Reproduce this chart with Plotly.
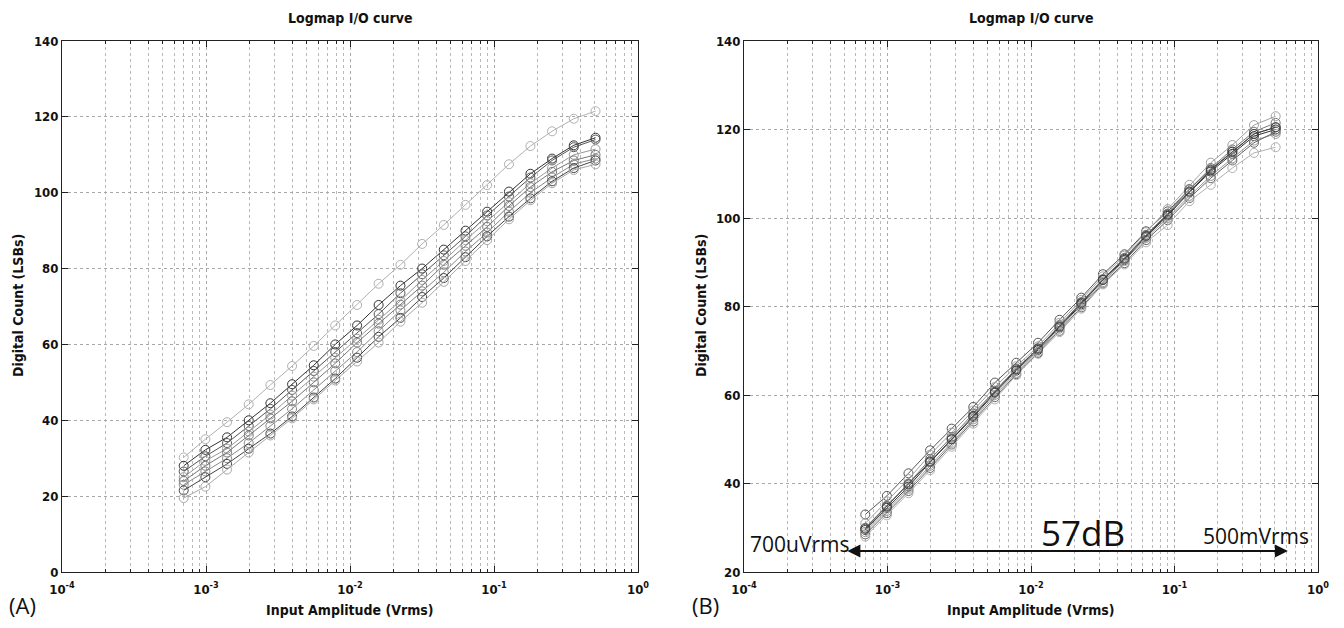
import plotly.graph_objects as go

# Input amplitudes (Vrms), 3 dB steps from 700 uVrms to 500 mVrms
x_vrms = [0.0007, 0.00099, 0.0014, 0.00198, 0.0028, 0.00396, 0.0056, 0.0079,
          0.0112, 0.0158, 0.0224, 0.0317, 0.0448, 0.0634, 0.0896, 0.127,
          0.179, 0.253, 0.358, 0.507]

# Panel (A) digital counts
a1 = [30.2, 35, 39.5, 44.2, 49.3, 54.3, 59.6, 65, 70.4, 76, 81, 86.5, 91.5, 96.8, 102, 107.5, 112.3, 116.2, 119.5, 121.5]
a2 = [28, 32.2, 35.5, 40, 44.5, 49.5, 54.5, 60, 65, 70.4, 75.5, 80, 85, 90, 95, 100.3, 105, 109, 112.5, 114.5]
a3 = [26.5, 30.5, 34, 38.5, 43, 48, 53, 58, 63, 68, 73.5, 78.5, 83.5, 88.5, 94, 99, 104, 108.5, 112, 114]
a4 = [25, 29.3, 32.5, 37, 41.5, 46.5, 51.5, 56.5, 61.5, 66.5, 71.5, 77, 82, 87.5, 92.5, 97.5, 102.5, 106.5, 110, 111.5]
a5 = [24, 28, 31.5, 36, 40.5, 45, 50, 55, 60.5, 65.5, 70.5, 75.5, 81, 86, 91, 96.5, 101.5, 105.5, 108.5, 110]
a6 = [23, 26.5, 30, 34, 38.5, 43, 48, 53, 58, 63.5, 69, 74, 79, 84.5, 89.5, 95, 100, 104, 107.5, 109]
a7 = [21.5, 25, 28.5, 32.5, 36.5, 41, 46, 51, 56.5, 62, 67, 72.5, 77.5, 83, 88.5, 93.7, 98.5, 103, 106.5, 108.5]
a8 = [19.5, 22.5, 27, 31.5, 36, 40.5, 45.5, 50.5, 55.5, 60.5, 66, 71, 76.5, 82, 87.5, 93, 98, 102.5, 106, 107.5]

# Panel (B) digital counts
b1 = [33, 37.2, 42.3, 47.5, 52.4, 57.3, 62.8, 67.3, 71.8, 77, 82, 87.3, 91.8, 97, 101.5, 106.5, 111, 115, 119, 120.5]
b2 = [31, 36, 41, 46.5, 51.5, 56.5, 61.8, 66.5, 71, 76.3, 81.5, 86.8, 91.5, 96.8, 102, 107.5, 112.5, 116.5, 121, 123]
b3 = [30, 35, 40, 45.5, 50.5, 55.8, 61, 66, 70.5, 75.8, 81, 86.2, 91, 96.2, 101, 106.5, 111.3, 115.5, 119.5, 121.5]
b4 = [29.5, 34.5, 39.3, 44.8, 50, 55, 60.5, 65.5, 70.2, 75.3, 80.5, 86, 90.5, 95.8, 100.5, 105.8, 110.5, 114.5, 118.5, 120]
b5 = [29, 33.8, 38.8, 44, 49.2, 54.5, 60, 65, 69.8, 75, 80.2, 85.5, 90.3, 95.5, 100, 105, 109.5, 113.5, 117.5, 119]
b6 = [28.5, 33.3, 38.3, 43.5, 48.8, 54, 59.5, 64.7, 69.5, 74.5, 79.8, 85.2, 89.8, 95, 99.5, 104.5, 109, 113, 117, 119.5]
b7 = [28, 32.8, 37.8, 43, 48.3, 53.5, 59, 64.5, 69.3, 74.2, 79.5, 85, 89.5, 94.5, 98.4, 103.8, 107.5, 111.3, 114.7, 116]
b8 = [29.8, 34.8, 39.8, 45, 50, 55.3, 60.7, 65.8, 70.5, 75.5, 80.8, 86, 90.8, 96, 100.8, 106, 110.8, 115, 119, 120.5]

series_a = [a1, a2, a3, a4, a5, a6, a7, a8]
series_b = [b1, b2, b3, b4, b5, b6, b7, b8]
colors_a = ["#b0b0b0", "#333333", "#555555", "#9a9a9a", "#777777", "#888888", "#444444", "#a8a8a8"]
colors_b = ["#555555", "#a0a0a0", "#777777", "#333333", "#999999", "#666666", "#b0b0b0", "#444444"]

major_x = [1e-4, 1e-3, 1e-2, 1e-1, 1e0]
major_x_text = ["<b>10<sup>-4</sup></b>", "<b>10<sup>-3</sup></b>", "<b>10<sup>-2</sup></b>",
                "<b>10<sup>-1</sup></b>", "<b>10<sup>0</sup></b>"]
minor_x = [m * d for d in [1e-4, 1e-3, 1e-2, 1e-1] for m in range(2, 10)]

yticks_a = [0, 20, 40, 60, 80, 100, 120, 140]
yticks_b = [20, 40, 60, 80, 100, 120, 140]

FONT = "Liberation Sans Narrow, DejaVu Sans Condensed, Liberation Sans, Arial"
TXT = "Open Sans, Noto Sans, sans-serif"

W, H = 1344, 628
ML, MR, MT, MB = 62, 26, 41, 56
PW, PH = W - ML - MR, H - MT - MB

def px(x):
    return (x - ML) / PW

def py(y):
    return (H - MB - y) / PH

fig = go.Figure()
for s, c in zip(series_a, colors_a):
    fig.add_trace(go.Scatter(x=x_vrms, y=s, mode="lines+markers", xaxis="x", yaxis="y",
                             line=dict(color=c, width=1),
                             marker=dict(symbol="circle-open", size=9, color=c, line=dict(width=1)),
                             showlegend=False))
for s, c in zip(series_b, colors_b):
    fig.add_trace(go.Scatter(x=x_vrms, y=s, mode="lines+markers", xaxis="x2", yaxis="y2",
                             line=dict(color=c, width=1),
                             marker=dict(symbol="circle-open", size=9, color=c, line=dict(width=1)),
                             showlegend=False))

xa_dom = [0, px(638)]
xb_dom = [px(744), 1]

def xaxis(domain, anchor):
    return dict(type="log", domain=domain, anchor=anchor, range=[-4, 0], automargin=False,
                tickmode="array", tickvals=major_x, ticktext=major_x_text,
                ticks="inside", ticklen=6, tickcolor="#222", mirror="ticks",
                ticklabelstandoff=5,
                showline=True, linecolor="#222", linewidth=1,
                showgrid=True, gridcolor="#a8a8a8", griddash="dot", gridwidth=1,
                minor=dict(tickmode="array", tickvals=minor_x, ticks="inside", ticklen=3,
                           tickcolor="#222", showgrid=True, gridcolor="#b8b8b8",
                           griddash="dot", gridwidth=1),
                tickfont=dict(family=FONT, size=13, color="#111"),
                zeroline=False)

def yaxis(anchor, rng, tv):
    return dict(domain=[0, 1], anchor=anchor, range=rng, automargin=False,
                tickmode="array", tickvals=tv, ticktext=[f"<b>{v}</b>" for v in tv],
                ticks="inside", ticklen=6, tickcolor="#222", mirror="ticks",
                showline=True, linecolor="#222", linewidth=1,
                showgrid=True, gridcolor="#a8a8a8", griddash="dot", gridwidth=1,
                tickfont=dict(family=FONT, size=13, color="#111"),
                zeroline=False)

fig.update_layout(
    width=W, height=H, margin=dict(l=ML, r=MR, t=MT, b=MB, pad=0),
    paper_bgcolor="white", plot_bgcolor="white",
    xaxis=xaxis(xa_dom, "y"), yaxis=yaxis("x", [0, 140], yticks_a),
    xaxis2=xaxis(xb_dom, "y2"), yaxis2=yaxis("x2", [20, 140], yticks_b),
)

title_font = dict(family=FONT, size=14, color="#111")
label_font = dict(family=FONT, size=14, color="#111")
C = dict(xanchor="center", yanchor="middle", showarrow=False)
annos = [
    dict(text="<b>Logmap I/O curve</b>", x=px(350), y=py(18), xref="paper", yref="paper",
         font=title_font, **C),
    dict(text="<b>Logmap I/O curve</b>", x=px(1031), y=py(18), xref="paper", yref="paper",
         font=title_font, **C),
    dict(text="<b>Input Amplitude (Vrms)</b>", x=px(350), y=py(610), xref="paper", yref="paper",
         font=label_font, **C),
    dict(text="<b>Input Amplitude (Vrms)</b>", x=px(1031), y=py(610), xref="paper", yref="paper",
         font=label_font, **C),
    dict(text="<b>Digital Count (LSBs)</b>", x=px(18), y=py(306), xref="paper", yref="paper",
         textangle=-90, font=label_font, **C),
    dict(text="<b>Digital Count (LSBs)</b>", x=px(701), y=py(306), xref="paper", yref="paper",
         textangle=-90, font=label_font, **C),
    dict(text="(A)", x=px(22), y=py(605), xref="paper", yref="paper",
         font=dict(family=TXT, size=22, color="#111"), **C),
    dict(text="(B)", x=px(705), y=py(605), xref="paper", yref="paper",
         font=dict(family=TXT, size=22, color="#111"), **C),
    dict(text="700uVrms", x=-3.61, y=26.3, xref="x2", yref="y2",
         font=dict(family=TXT, size=21, color="#111"), **C),
    dict(text="57dB", x=-1.64, y=28.9, xref="x2", yref="y2",
         font=dict(family=TXT, size=35, color="#111"), **C),
    dict(text="500mVrms", x=-0.43, y=28.2, xref="x2", yref="y2",
         font=dict(family=TXT, size=21, color="#111"), **C),
    dict(text="", x=-0.21, y=24.75, ax=-3.29, ay=24.75, xref="x2", yref="y2",
         axref="x2", ayref="y2", showarrow=True, arrowhead=2, arrowside="end+start",
         arrowsize=1.3, arrowwidth=2, arrowcolor="#111"),
]
fig.update_layout(annotations=annos)

fig.write_html("out.html")
